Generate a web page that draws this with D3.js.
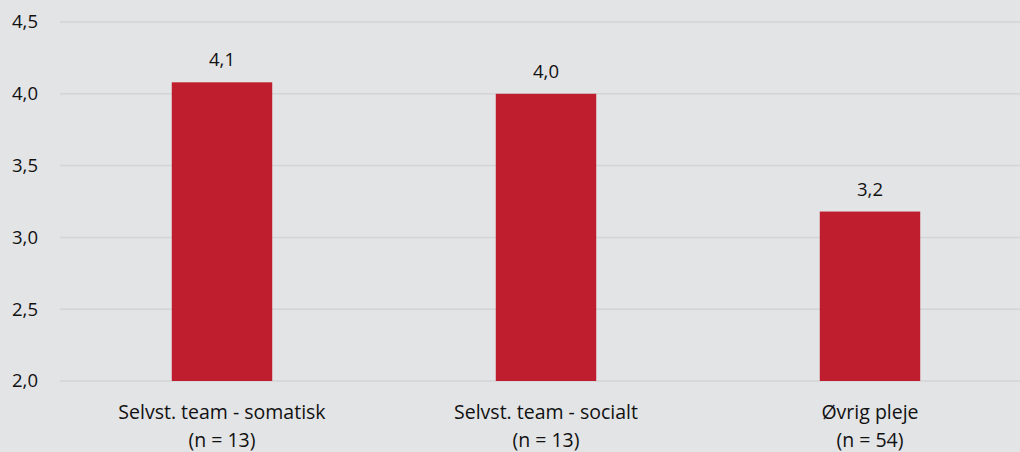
<!DOCTYPE html>
<html>
<head>
<meta charset="utf-8">
<script src="https://cdn.jsdelivr.net/npm/d3@7"></script>
<style>
  body { margin: 0; background: #e3e4e6; }
  svg { display: block; font-family: "Open Sans", "Noto Sans", sans-serif; }
</style>
</head>
<body>
<div id="chart"></div>
<script>
const categories = ["Selvst. team - somatisk", "Selvst. team - socialt", "Øvrig pleje"];
const counts = ["(n = 13)", "(n = 13)", "(n = 54)"];
const values = [4.08, 4.0, 3.18];
const labels = ["4,1", "4,0", "3,2"];
const yTicks = [2.0, 2.5, 3.0, 3.5, 4.0, 4.5];

const W = 1020, H = 452;
const svg = d3.select("#chart").append("svg")
  .attr("width", W).attr("height", H);

svg.append("rect").attr("width", W).attr("height", H).attr("fill", "#e3e4e6");

const x = d3.scaleBand().domain(categories).range([60, 1032]).paddingInner(0.69).paddingOuter(0.345);
const y = d3.scaleLinear().domain([2.0, 4.5]).range([381, 22]);

const fmt = d => d.toFixed(1).replace(".", ",");

// gridlines
svg.append("g")
  .selectAll("line")
  .data(yTicks)
  .join("line")
  .attr("x1", 60).attr("x2", W)
  .attr("y1", d => y(d)).attr("y2", d => y(d))
  .attr("stroke", "#d3d4d6").attr("stroke-width", 1.5);

const yAxis = svg.append("g")
  .attr("transform", "translate(38,0)")
  .call(d3.axisLeft(y).tickValues(yTicks).tickFormat(fmt).tickSize(0).tickPadding(0));
yAxis.select(".domain").remove();
yAxis.selectAll("text")
  .attr("font-size", 18.5).attr("fill", "#111")
  .attr("font-family", "'Open Sans', 'Noto Sans', sans-serif");

svg.append("g")
  .selectAll("rect")
  .data(values)
  .join("rect")
  .attr("x", (d, i) => x(categories[i]))
  .attr("width", x.bandwidth())
  .attr("y", d => y(d))
  .attr("height", d => y(2.0) - y(d))
  .attr("fill", "#be1e2d");

svg.append("g")
  .selectAll("text")
  .data(values)
  .join("text")
  .attr("x", (d, i) => x(categories[i]) + x.bandwidth() / 2)
  .attr("y", d => y(d) - 16)
  .attr("text-anchor", "middle")
  .attr("font-size", 18.5).attr("fill", "#111")
  .text((d, i) => labels[i]);

const xl = svg.append("g")
  .selectAll("text")
  .data(categories)
  .join("text")
  .attr("x", d => x(d) + x.bandwidth() / 2)
  .attr("y", 419)
  .attr("text-anchor", "middle")
  .attr("font-size", 19.5).attr("fill", "#111");
xl.append("tspan").attr("x", d => x(d) + x.bandwidth() / 2).text(d => d);
xl.append("tspan").attr("x", d => x(d) + x.bandwidth() / 2).attr("dy", 28).text((d, i) => counts[i]);
</script>
</body>
</html>
